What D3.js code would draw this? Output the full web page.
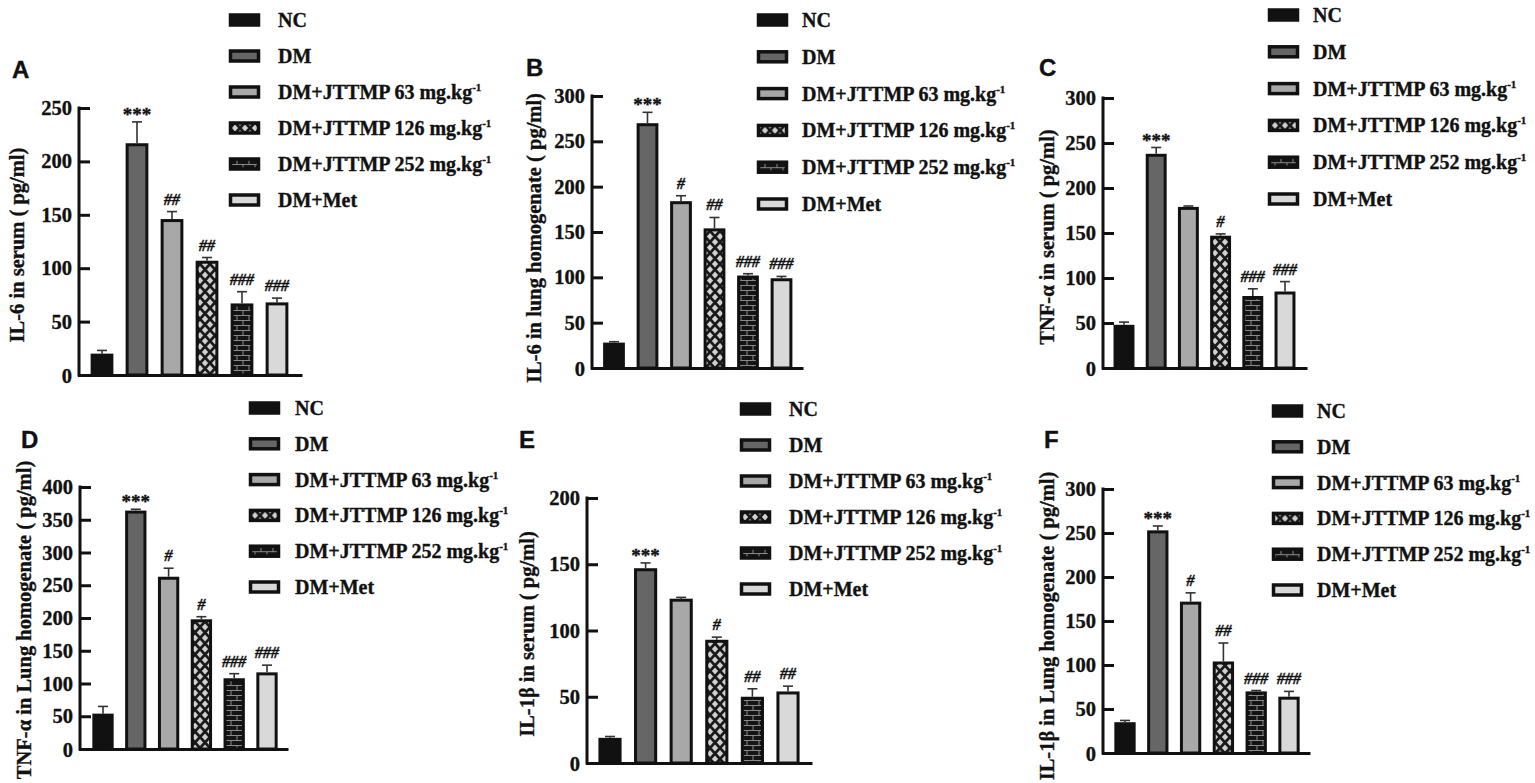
<!DOCTYPE html>
<html>
<head>
<meta charset="utf-8">
<script src="https://cdn.jsdelivr.net/npm/d3@7"></script>
<style>
  html, body { margin: 0; padding: 0; background: #fff; }
  svg text { font-family: "Liberation Serif", "Times New Roman", serif; font-weight: bold; fill: #111; stroke: #111; stroke-width: 0.35px; }
</style>
</head>
<body>
<div id="chart"></div>
<script>
const groupNames = ["NC", "DM", "DM+JTTMP 63 mg.kg", "DM+JTTMP 126 mg.kg", "DM+JTTMP 252 mg.kg", "DM+Met"];
const groupSup = ["", "", "-1", "-1", "-1", ""];

const il6SerumMean = [20, 217, 146, 107, 67, 68];
const il6SerumErr = [3, 20, 7, 3, 11, 4];
const il6SerumSig = ["", "***", "##", "##", "###", "###"];

const il6LungMean = [28, 270, 184, 154, 102, 99];
const il6LungErr = [1, 12, 6, 12, 2, 2];
const il6LungSig = ["", "***", "#", "##", "###", "###"];

const tnfSerumMean = [48, 238, 179, 147, 80, 85];
const tnfSerumErr = [3, 7, 1, 2, 8, 11];
const tnfSerumSig = ["", "***", "", "#", "###", "###"];

const tnfLungMean = [54, 364, 263, 198, 108, 117];
const tnfLungErr = [11, 2, 13, 4, 7, 11];
const tnfLungSig = ["", "***", "#", "#", "###", "###"];

const il1bSerumMean = [19, 147, 124, 93, 50, 54];
const il1bSerumErr = [1, 4, 1, 2, 6, 4];
const il1bSerumSig = ["", "***", "", "#", "##", "##"];

const il1bLungMean = [35, 253, 172, 104, 70, 64];
const il1bLungErr = [2, 5, 10, 21, 1, 6];
const il1bLungSig = ["", "***", "#", "##", "###", "###"];

const ticks250 = [0, 50, 100, 150, 200, 250];
const ticks300 = [0, 50, 100, 150, 200, 250, 300];
const ticks400 = [0, 50, 100, 150, 200, 250, 300, 350, 400];
const ticks200 = [0, 50, 100, 150, 200];

const width = 1535, height = 783;
const barFills = ["#111", "#666", "#a8a8a8", "url(#diamond)", "url(#brick)", "#d9d9d9"];

// layout of each panel (pixels)
const panels = [
    { letter: "A", label: "IL-6 in serum ( pg/ml)", mean: il6SerumMean, err: il6SerumErr, sig: il6SerumSig, ticks: ticks250,
      axisX: 79, xEnd: 302, y0: 375, yTop: 108, c0: 102, step: 35,
      labelX: 18, labelY: 245, letterX: 12, letterY: 78, legX: 229, legTextX: 278, legY: 20, legStep: 36 },
    { letter: "B", label: "IL-6 in lung homogenate ( pg/ml)", mean: il6LungMean, err: il6LungErr, sig: il6LungSig, ticks: ticks300,
      axisX: 592, xEnd: 803, y0: 368, yTop: 96, c0: 614, step: 33.5,
      labelX: 535, labelY: 238, letterX: 526, letterY: 76, legX: 757, legTextX: 802, legY: 20, legStep: 36.8 },
    { letter: "C", label: "TNF-α in serum ( pg/ml)", mean: tnfSerumMean, err: tnfSerumErr, sig: tnfSerumSig, ticks: ticks300,
      axisX: 1103, xEnd: 1307, y0: 368, yTop: 98, c0: 1124, step: 32.2,
      labelX: 1048, labelY: 237, letterX: 1039, letterY: 76, legX: 1268, legTextX: 1313, legY: 15, legStep: 36.8 },
    { letter: "D", label: "TNF-α in Lung homogenate ( pg/ml)", mean: tnfLungMean, err: tnfLungErr, sig: tnfLungSig, ticks: ticks400,
      axisX: 80, xEnd: 288, y0: 749, yTop: 487, c0: 103, step: 32.8,
      labelX: 25, labelY: 620, letterX: 21, letterY: 448, legX: 249, legTextX: 295, legY: 408, legStep: 35.8 },
    { letter: "E", label: "IL-1β in serum ( pg/ml)", mean: il1bSerumMean, err: il1bSerumErr, sig: il1bSerumSig, ticks: ticks200,
      axisX: 587, xEnd: 812, y0: 763, yTop: 498, c0: 610, step: 35.6,
      labelX: 528, labelY: 634, letterX: 519, letterY: 448, legX: 740, legTextX: 789, legY: 409, legStep: 36 },
    { letter: "F", label: "IL-1β in Lung homogenate ( pg/ml)", mean: il1bLungMean, err: il1bLungErr, sig: il1bLungSig, ticks: ticks300,
      axisX: 1103, xEnd: 1310, y0: 753, yTop: 489, c0: 1125, step: 32.8,
      labelX: 1048, labelY: 626, letterX: 1044, letterY: 448, legX: 1272, legTextX: 1317, legY: 411, legStep: 35.8 }
];

const svg = d3.select("#chart").append("svg")
    .attr("width", width)
    .attr("height", height);

const defs = svg.append("defs");

const diamond = defs.append("pattern")
    .attr("id", "diamond")
    .attr("patternUnits", "userSpaceOnUse")
    .attr("width", 10).attr("height", 11);
diamond.append("rect").attr("width", 10).attr("height", 11).attr("fill", "#d0d0d0");
diamond.append("path")
    .attr("d", "M0,0 L10,11 M10,0 L0,11")
    .attr("stroke", "#1a1a1a").attr("stroke-width", 2.8);

const brick = defs.append("pattern")
    .attr("id", "brick")
    .attr("patternUnits", "userSpaceOnUse")
    .attr("width", 12).attr("height", 10);
brick.append("rect").attr("width", 12).attr("height", 10).attr("fill", "#141414");
brick.append("path")
    .attr("d", "M0,0.5 H12 M0,5.5 H12 M3,0.5 V5.5 M9,5.5 V10")
    .attr("stroke", "#8a8a8a").attr("stroke-width", 1).attr("fill", "none");

panels.forEach(p => {
    const g = svg.append("g");
    const yMax = d3.max(p.ticks);

    const y = d3.scaleLinear().domain([0, yMax]).range([p.y0, p.yTop]);
    const x = d3.scaleBand()
        .domain(groupNames)
        .range([p.c0 - p.step / 2, p.c0 + p.step * 5.5])
        .paddingInner(0.35)
        .paddingOuter(0.175);

    // y axis, ticks point inward
    const yAxis = g.append("g")
        .attr("transform", `translate(${p.axisX},0)`)
        .call(d3.axisLeft(y).tickValues(p.ticks.filter(t => t > 0)).tickSizeInner(-11).tickSizeOuter(0).tickPadding(7));
    yAxis.select(".domain").remove();
    yAxis.append("line")
        .attr("x1", 0).attr("x2", 0)
        .attr("y1", p.y0 + 1.5).attr("y2", y(yMax) - 1.5)
        .attr("stroke", "#111").attr("stroke-width", 3);
    yAxis.selectAll(".tick line").attr("stroke", "#111").attr("stroke-width", 3);
    yAxis.selectAll(".tick text")
        .attr("font-size", 20.5)
        .attr("fill", "#111")
        .style("font-family", "'Liberation Serif', serif")
        .style("font-weight", "bold");
    yAxis.append("text")
        .attr("x", -7).attr("y", p.y0 + 8)
        .attr("text-anchor", "end")
        .attr("font-size", 20.5)
        .text("0");

    // x axis line
    const xLine = d3.scaleLinear().range([p.axisX - 1.5, p.xEnd]);
    const xAxis = g.append("g")
        .attr("transform", `translate(0,${p.y0})`)
        .call(d3.axisBottom(xLine).tickValues([]).tickSizeOuter(0));
    xAxis.select(".domain").attr("stroke", "#111").attr("stroke-width", 3);

    // bars
    const sw = 3;
    g.selectAll("rect.bar")
        .data(p.mean)
        .join("rect")
        .attr("class", "bar")
        .attr("x", (d, i) => x(groupNames[i]) + sw / 2)
        .attr("width", x.bandwidth() - sw)
        .attr("y", d => y(d) + sw / 2)
        .attr("height", d => p.y0 - y(d) - sw / 2)
        .attr("fill", (d, i) => barFills[i])
        .attr("stroke", "#111")
        .attr("stroke-width", sw);

    // error bars (upper only)
    const eb = g.selectAll("g.err")
        .data(p.mean)
        .join("g")
        .attr("class", "err");
    eb.append("line")
        .attr("x1", (d, i) => x(groupNames[i]) + x.bandwidth() / 2)
        .attr("x2", (d, i) => x(groupNames[i]) + x.bandwidth() / 2)
        .attr("y1", d => y(d))
        .attr("y2", (d, i) => y(d + p.err[i]))
        .attr("stroke", "#333").attr("stroke-width", 1.6);
    eb.append("line")
        .attr("x1", (d, i) => x(groupNames[i]) + x.bandwidth() / 2 - 5)
        .attr("x2", (d, i) => x(groupNames[i]) + x.bandwidth() / 2 + 5)
        .attr("y1", (d, i) => y(d + p.err[i]))
        .attr("y2", (d, i) => y(d + p.err[i]))
        .attr("stroke", "#333").attr("stroke-width", 1.6);

    // significance marks
    g.selectAll("text.sig")
        .data(p.mean)
        .join("text")
        .attr("class", "sig")
        .attr("x", (d, i) => x(groupNames[i]) + x.bandwidth() / 2)
        .attr("y", (d, i) => y(d + p.err[i]) - (p.sig[i].startsWith("*") ? 1 : 7))
        .attr("text-anchor", "middle")
        .attr("font-size", (d, i) => p.sig[i].startsWith("*") ? 19 : 16)
        .attr("font-style", (d, i) => p.sig[i].startsWith("*") ? "normal" : "italic")
        .attr("fill", "#222")
        .text((d, i) => p.sig[i]);

    // y label
    g.append("text")
        .attr("transform", `translate(${p.labelX + 6},${p.labelY}) rotate(-90)`)
        .attr("text-anchor", "middle")
        .attr("font-size", 20.5)
        .text(p.label);

    // panel letter
    g.append("text")
        .attr("x", p.letterX).attr("y", p.letterY)
        .attr("font-size", 24)
        .style("font-family", "'Liberation Sans', Arial, sans-serif")
        .text(p.letter);

    // legend
    const leg = g.selectAll("g.leg")
        .data(groupNames)
        .join("g")
        .attr("class", "leg")
        .attr("transform", (d, i) => `translate(0,${p.legY + i * p.legStep})`);
    leg.append("rect")
        .attr("x", p.legX + 1.5).attr("y", -5)
        .attr("width", 28).attr("height", 10)
        .attr("fill", (d, i) => barFills[i])
        .attr("stroke", "#111").attr("stroke-width", 3.5);
    const lt = leg.append("text")
        .attr("x", p.legTextX).attr("y", 7)
        .attr("font-size", 20);
    lt.append("tspan").text(d => d);
    lt.append("tspan")
        .attr("dy", -8)
        .attr("font-size", 11)
        .text((d, i) => groupSup[i]);
});
</script>
</body>
</html>
